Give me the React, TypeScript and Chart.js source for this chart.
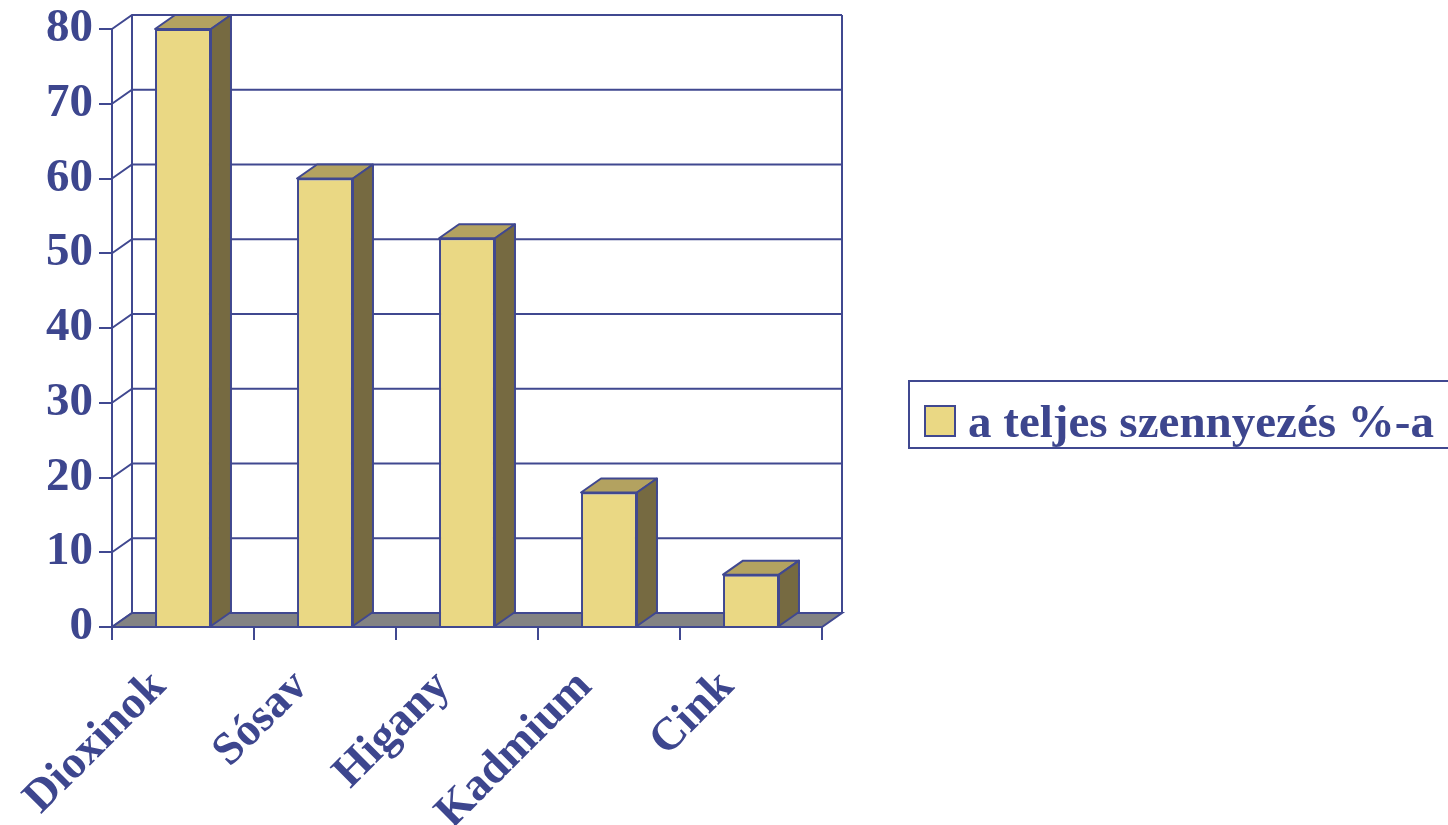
import React, { useEffect, useRef } from "react";
import { Chart, registerables } from "chart.js";

Chart.register(...registerables);

// Share of total pollution by substance
const categories: string[] = ["Dioxinok", "Sósav", "Higany", "Kadmium", "Cink"];
const seriesLabel = "a teljes szennyezés %-a";
const seriesValues: number[] = [80, 60, 52, 18, 7];
const yTicks: number[] = [0, 10, 20, 30, 40, 50, 60, 70, 80];

const NAVY = "#404890";
const TEXT = "#3D468E";
const FRONT = "#EAD884";
const TOP = "#B3A260";
const SIDE = "#766A41";
const FLOOR = "#838383";
const FONT = "'Liberation Serif', 'Times New Roman', serif";

// depth offset of the 3D box (towards the back wall)
const DX = 20;
const DY = -14;

const box3d = {
  id: "box3d",
  beforeDatasetsDraw(chart: any) {
    const { ctx, chartArea, scales } = chart;
    const y = scales.y;
    const left = chartArea.left;
    const right = chartArea.right;
    const bottom = y.getPixelForValue(0);
    const top = y.getPixelForValue(yTicks[yTicks.length - 1]);
    ctx.save();
    ctx.lineWidth = 2;
    ctx.strokeStyle = NAVY;
    // back wall gridlines + side wall diagonals
    yTicks.forEach((v) => {
      const py = y.getPixelForValue(v);
      ctx.beginPath();
      ctx.moveTo(left, py);
      ctx.lineTo(left + DX, py + DY);
      ctx.lineTo(right + DX, py + DY);
      ctx.stroke();
    });
    // back wall left and right edges
    ctx.beginPath();
    ctx.moveTo(left + DX, top + DY);
    ctx.lineTo(left + DX, bottom + DY);
    ctx.moveTo(right + DX, top + DY);
    ctx.lineTo(right + DX, bottom + DY);
    ctx.stroke();
    // floor
    ctx.beginPath();
    ctx.moveTo(left, bottom);
    ctx.lineTo(right, bottom);
    ctx.lineTo(right + DX, bottom + DY);
    ctx.lineTo(left + DX, bottom + DY);
    ctx.closePath();
    ctx.fillStyle = FLOOR;
    ctx.fill();
    ctx.stroke();
    ctx.restore();
  },
  afterDatasetsDraw(chart: any) {
    const { ctx } = chart;
    const meta = chart.getDatasetMeta(0);
    ctx.save();
    ctx.lineWidth = 2;
    ctx.strokeStyle = NAVY;
    ctx.lineJoin = "round";
    meta.data.forEach((bar: any) => {
      const { x, y, base, width } = bar.getProps(["x", "y", "base", "width"], true);
      const x1 = x - width / 2;
      const x2 = x + width / 2;
      // top face
      ctx.beginPath();
      ctx.moveTo(x1, y);
      ctx.lineTo(x2, y);
      ctx.lineTo(x2 + DX, y + DY);
      ctx.lineTo(x1 + DX, y + DY);
      ctx.closePath();
      ctx.fillStyle = TOP;
      ctx.fill();
      ctx.stroke();
      // side face
      ctx.beginPath();
      ctx.moveTo(x2, y);
      ctx.lineTo(x2 + DX, y + DY);
      ctx.lineTo(x2 + DX, base + DY);
      ctx.lineTo(x2, base);
      ctx.closePath();
      ctx.fillStyle = SIDE;
      ctx.fill();
      ctx.stroke();
    });
    ctx.restore();
  },
  afterDraw(chart: any) {
    const { ctx } = chart;
    const label = chart.data.datasets[0].label;
    ctx.save();
    // legend frame
    ctx.lineWidth = 2;
    ctx.strokeStyle = NAVY;
    ctx.fillStyle = "#ffffff";
    ctx.beginPath();
    ctx.rect(909, 381, 560, 67);
    ctx.fill();
    ctx.stroke();
    // legend swatch
    ctx.fillStyle = FRONT;
    ctx.fillRect(925, 406, 30, 30);
    ctx.strokeRect(925, 406, 30, 30);
    // legend text
    ctx.fillStyle = TEXT;
    ctx.font = `bold 47px ${FONT}`;
    ctx.textBaseline = "alphabetic";
    ctx.textAlign = "left";
    ctx.fillText(label, 968, 437);
    ctx.restore();
  },
};

export default function App() {
  const canvasRef = useRef<HTMLCanvasElement | null>(null);

  useEffect(() => {
    document.body.style.margin = "0";
    const canvas = canvasRef.current;
    if (!canvas) return;
    const chart = new Chart(canvas, {
      type: "bar",
      data: {
        labels: categories,
        datasets: [
          {
            label: seriesLabel,
            data: seriesValues,
            backgroundColor: FRONT,
            borderColor: NAVY,
            borderWidth: 2,
            categoryPercentage: 1,
            barPercentage: 0.394,
          },
        ],
      },
      options: {
        responsive: false,
        animation: false,
        events: [],
        layout: { padding: { top: 29, right: 626, left: 0, bottom: 0 } },
        plugins: {
          legend: { display: false },
          tooltip: { enabled: false },
        },
        scales: {
          x: {
            type: "category",
            offset: true,
            grid: {
              offset: true,
              drawOnChartArea: false,
              drawTicks: true,
              tickLength: 13,
              color: NAVY,
              lineWidth: 2,
            },
            border: { display: true, color: NAVY, width: 2 },
            ticks: {
              color: TEXT,
              font: { family: FONT, size: 46, weight: "bold" },
              minRotation: 45,
              maxRotation: 45,
              autoSkip: false,
              padding: 20,
              labelOffset: -24,
            },
            afterFit(scale: any) {
              scale.height = 198;
              scale.paddingLeft = 0;
              scale.paddingRight = 0;
            },
          },
          y: {
            type: "linear",
            min: 0,
            max: 80,
            grid: {
              drawOnChartArea: false,
              drawTicks: true,
              tickLength: 13,
              color: NAVY,
              lineWidth: 2,
            },
            border: { display: true, color: NAVY, width: 2 },
            ticks: {
              stepSize: 10,
              color: TEXT,
              padding: 6,
              font: { family: FONT, size: 47, weight: "bold" },
            },
            afterFit(scale: any) {
              scale.width = 112;
              scale.paddingTop = 0;
              scale.paddingBottom = 0;
            },
          },
        },
      },
      plugins: [box3d],
    });
    return () => chart.destroy();
  }, []);

  return (
    <div style={{ width: 1448, height: 825, background: "#ffffff" }}>
      <canvas ref={canvasRef} width={1448} height={825} />
    </div>
  );
}
